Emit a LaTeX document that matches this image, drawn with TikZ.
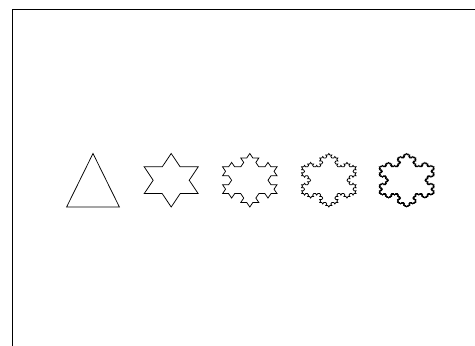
\documentclass[tikz,border=0pt]{standalone}
\usepackage{tikz}
\tikzset{
  kochline/.style={draw=black, line width=0.75pt, line join=miter},
  framestyle/.style={draw=black, line width=1pt}
}
% recursive Koch segment: level, x1, y1, x2, y2
\newcommand\kochseg[5]{%
  \ifnum#1=0
    \xdef\kochpath{\kochpath -- (#4,#5)}%
  \else
    \begingroup
      \pgfmathsetmacro\kdx{((#4)-(#2))/3}%
      \pgfmathsetmacro\kdy{((#5)-(#3))/3}%
      \pgfmathsetmacro\kax{(#2)+(\kdx)}%
      \pgfmathsetmacro\kay{(#3)+(\kdy)}%
      \pgfmathsetmacro\kbx{(#2)+2*(\kdx)}%
      \pgfmathsetmacro\kby{(#3)+2*(\kdy)}%
      \pgfmathsetmacro\kpx{(\kax)+0.5*(\kdx)-0.8660254*(\kdy)}%
      \pgfmathsetmacro\kpy{(\kay)+0.8660254*(\kdx)+0.5*(\kdy)}%
      \pgfmathtruncatemacro\klv{#1-1}%
      \edef\knext{%
        \noexpand\kochseg{\klv}{#2}{#3}{\kax}{\kay}%
        \noexpand\kochseg{\klv}{\kax}{\kay}{\kpx}{\kpy}%
        \noexpand\kochseg{\klv}{\kpx}{\kpy}{\kbx}{\kby}%
        \noexpand\kochseg{\klv}{\kbx}{\kby}{#4}{#5}}%
    \expandafter\endgroup\knext
  \fi}
\newcommand\kochshape[1]{%
  \gdef\kochpath{}%
  \kochseg{#1}{0}{0.8660254}{0.5}{0}%
  \kochseg{#1}{0.5}{0}{-0.5}{0}%
  \kochseg{#1}{-0.5}{0}{0}{0.8660254}%
  \edef\kochdraw{\noexpand\draw[kochline] (0,0.8660254) \kochpath -- cycle;}%
  \kochdraw}
\begin{document}
\begin{tikzpicture}
\useasboundingbox (0,0) rectangle (475pt,346pt);
\draw[framestyle] (12.3pt,0pt) -- (12.3pt,336pt) -- (475pt,336pt);
% level 0
\begin{scope}[x=52.8pt, y=61.776pt, shift={(93pt,139pt)}]
  \kochshape{0}
\end{scope}
% levels 1-4
\begin{scope}[x=54pt, y=46.333pt, shift={(171.2pt,139pt)}, shift={(0,0.2886751)}]
  \kochshape{1}
\end{scope}
\begin{scope}[x=54.5pt, y=46.333pt, shift={(249.8pt,139pt)}, shift={(0,0.2886751)}]
  \kochshape{2}
\end{scope}
\begin{scope}[x=54.5pt, y=46.333pt, shift={(328.8pt,139pt)}, shift={(0,0.2886751)}]
  \kochshape{3}
\end{scope}
\begin{scope}[x=54.5pt, y=46.333pt, shift={(406.7pt,139pt)}, shift={(0,0.2886751)}]
  \kochshape{4}
\end{scope}
\end{tikzpicture}
\end{document}
